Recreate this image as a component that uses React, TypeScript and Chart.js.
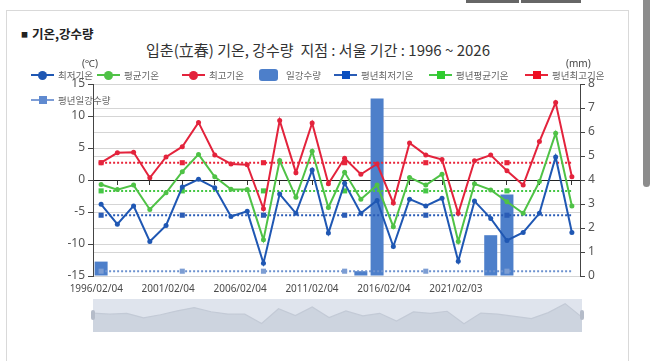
import React, { useEffect, useRef } from 'react';
import { Chart, registerables } from 'chart.js';

Chart.register(...registerables);

// ---------------- data ----------------
const categories = [
  '1996', '1997', '1998', '1999', '2000', '2001', '2002', '2003', '2004', '2005',
  '2006', '2007', '2008', '2009', '2010', '2011', '2012', '2013', '2014', '2015',
  '2016', '2017', '2018', '2019', '2020', '2021', '2022', '2023', '2024', '2025',
];
const minTemp = [
  -3.8, -6.9, -4.05, -9.6, -7.1, -1.1, 0.1, -1.2, -5.7, -4.9,
  -13.0, -2.2, -5.2, 1.55, -8.3, -0.5, -5.2, -3.2, -10.4, -3.0,
  -4.05, -2.85, -12.7, -3.3, -6.0, -9.45, -8.2, -5.2, 3.6, -8.2,
];
const avgTemp = [
  -0.7, -1.5, -0.8, -4.6, -2.0, 1.3, 4.0, 0.5, -1.45, -1.5,
  -9.35, 3.05, -2.7, 4.5, -4.3, 1.2, -3.0, -0.8, -7.3, 0.4,
  -0.8, 0.9, -9.6, -0.6, -1.55, -3.4, -5.2, -0.25, 7.3, -4.05,
];
const maxTemp = [
  2.7, 4.25, 4.35, 0.35, 3.6, 5.2, 9.0, 3.9, 2.5, 2.4,
  -4.5, 9.3, 1.15, 8.9, -0.6, 3.4, 0.9, 2.5, -3.6, 5.8,
  3.9, 3.2, -5.2, 3.0, 3.9, 1.45, -0.8, 6.0, 12.1, 0.5,
];
const precip = [
  0.6, 0, 0, 0, 0, 0, 0, 0, 0, 0,
  0, 0, 0, 0, 0, 0, 0.2, 7.4, 0, 0,
  0, 0, 0, 0, 1.7, 3.4, 0, 0, 0, 0,
];
const normalMin = -5.5;
const normalAvg = -1.7;
const normalMax = 2.7;
const normalPrecip = 0.2;

const tickLabels = ['1996/02/04', '2001/02/04', '2006/02/04', '2011/02/04', '2016/02/04', '2021/02/03'];
const seriesNames = ['최저기온', '평균기온', '최고기온', '일강수량', '평년최저기온', '평년평균기온', '평년최고기온', '평년일강수량'];

const titleText = '입춘(立春) 기온, 강수량  지점 : 서울 기간 : 1996 ~ 2026';
const headerText = '기온,강수량';

// ---------------- styles ----------------
const COL = {
  min: '#1f57b3',
  avg: '#4fc246',
  max: '#e3233c',
  bar: '#4d7fca',
  nMin: '#2a5cb6',
  nAvg: '#45c745',
  nMax: '#e8243a',
  nPre: '#6d92cf',
};
const KR = "'Noto Sans CJK KR', 'Noto Sans', sans-serif";
const NUM = "'Noto Sans', 'DejaVu Sans', sans-serif";

// date labels along the bottom, placed through the category scale
const xLabelPlugin = {
  id: 'xDateLabels',
  afterDraw(chart: any) {
    const sx = chart.scales.x;
    const ctx = chart.ctx;
    const bottom = chart.chartArea.bottom;
    ctx.save();
    ctx.font = `10px ${NUM}`;
    ctx.fillStyle = '#4a4a4a';
    ctx.textAlign = 'center';
    ctx.textBaseline = 'top';
    tickLabels.forEach((t, i) => {
      ctx.fillText(t, sx.getPixelForValue(-0.3 + i * 4.43), bottom + 8);
    });
    ctx.restore();
  },
};

function MainChart() {
  const ref = useRef<HTMLCanvasElement>(null);
  useEffect(() => {
    if (!ref.current) return;
    const everyFifth = (ctx: any) => (ctx.dataIndex % 5 === 0 ? 3.6 : 0);
    const chart = new Chart(ref.current, {
      type: 'bar',
      data: {
        labels: categories,
        datasets: [
          {
            type: 'line', label: seriesNames[0], data: minTemp, yAxisID: 'y', xAxisID: 'x',
            borderColor: COL.min, backgroundColor: COL.min, borderWidth: 2, pointRadius: 2.5,
            pointBorderWidth: 0, tension: 0, order: 1,
          },
          {
            type: 'line', label: seriesNames[1], data: avgTemp, yAxisID: 'y', xAxisID: 'x',
            borderColor: COL.avg, backgroundColor: COL.avg, borderWidth: 2, pointRadius: 2.5,
            pointBorderWidth: 0, tension: 0, order: 1,
          },
          {
            type: 'line', label: seriesNames[2], data: maxTemp, yAxisID: 'y', xAxisID: 'x',
            borderColor: COL.max, backgroundColor: COL.max, borderWidth: 2, pointRadius: 2.5,
            pointBorderWidth: 0, tension: 0, order: 1,
          },
          {
            type: 'bar', label: seriesNames[3], data: precip, yAxisID: 'y2', xAxisID: 'x',
            backgroundColor: COL.bar, barPercentage: 0.8, categoryPercentage: 1, order: 10,
          },
          {
            type: 'line', label: seriesNames[4], data: categories.map(() => normalMin), yAxisID: 'y', xAxisID: 'x',
            borderColor: COL.nMin, backgroundColor: COL.nMin, borderWidth: 2, borderDash: [2, 2],
            pointStyle: 'rect', pointRadius: everyFifth, pointBorderWidth: 0, order: 2,
          },
          {
            type: 'line', label: seriesNames[5], data: categories.map(() => normalAvg), yAxisID: 'y', xAxisID: 'x',
            borderColor: COL.nAvg, backgroundColor: COL.nAvg, borderWidth: 2, borderDash: [2, 2],
            pointStyle: 'rect', pointRadius: everyFifth, pointBorderWidth: 0, order: 2,
          },
          {
            type: 'line', label: seriesNames[6], data: categories.map(() => normalMax), yAxisID: 'y', xAxisID: 'x',
            borderColor: COL.nMax, backgroundColor: COL.nMax, borderWidth: 2, borderDash: [2, 2],
            pointStyle: 'rect', pointRadius: everyFifth, pointBorderWidth: 0, order: 2,
          },
          {
            type: 'line', label: seriesNames[7], data: categories.map(() => normalPrecip), yAxisID: 'y2', xAxisID: 'x',
            borderColor: COL.nPre, backgroundColor: '#7c9dd3', borderWidth: 2, borderDash: [2, 2],
            pointStyle: 'rect', pointRadius: everyFifth, pointBorderWidth: 0, order: 2,
          },
        ],
      },
      options: {
        animation: false,
        responsive: false,
        maintainAspectRatio: false,
        events: [],
        layout: { padding: { left: 63, right: 40, top: 84, bottom: 24 } },
        plugins: { legend: { display: false }, title: { display: false }, tooltip: { enabled: false } },
        scales: {
          x: {
            type: 'category',
            position: { y: 0 } as any,
            offset: true,
            grid: {
              drawOnChartArea: false,
              offset: false,
              tickLength: 4,
              color: (ctx: any) => (ctx.index % 2 === 1 ? '#333' : 'rgba(0,0,0,0)'),
            },
            border: { color: '#222', width: 1 },
            ticks: { display: false },
          },
          y: {
            position: 'left',
            min: -15,
            max: 15,
            ticks: { stepSize: 5, color: '#555', padding: 3, font: { size: 12, family: NUM } },
            grid: {
              color: (ctx: any) => (ctx.tick && ctx.tick.value === 0 ? 'rgba(0,0,0,0)' : '#d5d5d5'),
              tickColor: '#444',
              tickLength: 5,
            },
            border: { color: '#444' },
            afterFit: (s: any) => { s.width = 30; },
          },
          y2: {
            position: 'right',
            min: 0,
            max: 8,
            ticks: { stepSize: 1, color: '#555', padding: 3, font: { size: 12, family: NUM } },
            grid: {
              color: (ctx: any) => (ctx.tick && ctx.tick.value === 4 ? 'rgba(0,0,0,0)' : '#d5d5d5'),
              tickColor: '#444',
              tickLength: 5,
            },
            border: { color: '#444' },
            afterFit: (s: any) => { s.width = 30; },
          },
        },
      },
      plugins: [xLabelPlugin],
    } as any);
    return () => chart.destroy();
  }, []);
  return (
    <canvas
      ref={ref}
      width={650}
      height={300}
      style={{ position: 'absolute', left: 0, top: 0, width: 650, height: 300 }}
    />
  );
}

function Navigator() {
  const ref = useRef<HTMLCanvasElement>(null);
  useEffect(() => {
    if (!ref.current) return;
    const chart = new Chart(ref.current, {
      type: 'line',
      data: {
        labels: categories,
        datasets: [
          {
            data: avgTemp,
            borderColor: '#c3cad6',
            backgroundColor: '#cdd4df',
            borderWidth: 1.2,
            pointRadius: 0,
            fill: 'start',
            tension: 0,
          },
        ],
      },
      options: {
        animation: false,
        responsive: false,
        maintainAspectRatio: false,
        events: [],
        layout: { padding: 0 },
        plugins: { legend: { display: false }, tooltip: { enabled: false } },
        scales: {
          x: { display: false, offset: false },
          y: { display: false, min: -16.5, max: 11.2 },
        },
      },
    } as any);
    return () => chart.destroy();
  }, []);
  return (
    <div style={{ position: 'absolute', left: 93, top: 299, width: 489, height: 33, background: '#dfe4ed' }}>
      <canvas ref={ref} width={489} height={33} style={{ display: 'block', width: 489, height: 33 }} />
      <div style={{ position: 'absolute', left: -2, top: 11, width: 4, height: 10, borderRadius: 2, background: '#b5bcc9' }} />
      <div style={{ position: 'absolute', right: -2, top: 11, width: 4, height: 10, borderRadius: 2, background: '#b5bcc9' }} />
    </div>
  );
}

function Legend() {
  const items = [
    { kind: 'circle', color: COL.min, x: 31, y: 75 },
    { kind: 'circle', color: COL.avg, x: 97, y: 75 },
    { kind: 'circle', color: COL.max, x: 182, y: 75 },
    { kind: 'bar', color: COL.bar, x: 259, y: 75 },
    { kind: 'square', color: '#0b4fc0', line: COL.nMin, x: 334, y: 75 },
    { kind: 'square', color: '#2fcc2f', line: COL.nAvg, x: 429, y: 75 },
    { kind: 'square', color: '#ee1024', line: COL.nMax, x: 525, y: 75 },
    { kind: 'square', color: '#5f8ad0', line: '#7d9dd6', x: 31, y: 100 },
  ];
  return (
    <>
      {items.map((it, i) => {
        const markerW = it.kind === 'bar' ? 19 : 23;
        return (
          <div key={i} style={{ position: 'absolute', left: it.x, top: it.y - 8, height: 16, display: 'flex', alignItems: 'center' }}>
            <div style={{ position: 'relative', width: markerW, height: 16 }}>
              {it.kind === 'bar' ? (
                <div style={{ position: 'absolute', left: 0, top: 2, width: 19, height: 12, borderRadius: 3, background: it.color }} />
              ) : (
                <>
                  <div style={{ position: 'absolute', left: 0, top: 7, width: 23, height: 2, background: (it as any).line || it.color }} />
                  {it.kind === 'circle' ? (
                    <div style={{ position: 'absolute', left: 7, top: 3.5, width: 9, height: 9, borderRadius: '50%', background: it.color }} />
                  ) : (
                    <div style={{ position: 'absolute', left: 7.5, top: 4, width: 8, height: 8, background: it.color }} />
                  )}
                </>
              )}
            </div>
            <span style={{ marginLeft: it.kind === 'bar' ? 8 : 4, fontFamily: KR, fontSize: 9.5, color: '#666', whiteSpace: 'nowrap', lineHeight: '16px' }}>
              {seriesNames[i]}
            </span>
          </div>
        );
      })}
    </>
  );
}

export default function App() {
  return (
    <div style={{ position: 'fixed', left: 0, top: 0, width: 650, height: 361, overflow: 'hidden', background: '#fff', fontFamily: KR }}>
      {/* top buttons */}
      <div style={{ position: 'absolute', left: 466, top: 0, width: 53, height: 3, background: '#666' }} />
      <div style={{ position: 'absolute', left: 521, top: 0, width: 60, height: 3, background: '#666' }} />
      {/* panel */}
      <div style={{ position: 'absolute', left: 6, top: 10, width: 623, height: 360, border: '1px solid #d9d9d9', boxSizing: 'border-box' }} />
      {/* scrollbar thumb */}
      <div style={{ position: 'absolute', left: 643, top: -6, width: 7, height: 193, borderRadius: 4, background: '#8c8c8c' }} />

      <div style={{ position: 'absolute', left: 21, top: 25, fontSize: 12.5, fontWeight: 700, color: '#222', lineHeight: '18px', whiteSpace: 'nowrap' }}>
        <span style={{ fontSize: 7, marginRight: 4, position: 'relative', top: -2 }}>■</span>{headerText}
      </div>
      <div style={{ position: 'absolute', left: 0, width: 636, top: 40, textAlign: 'center', fontSize: 15, color: '#333', lineHeight: '20px', whiteSpace: 'pre' }}>
        {titleText}
      </div>

      <MainChart />
      <Navigator />

      <div style={{ position: 'absolute', left: 82, top: 56, fontSize: 10, color: '#444', fontFamily: NUM, lineHeight: '14px' }}>(℃)</div>
      <div style={{ position: 'absolute', left: 566, top: 56, fontSize: 10, color: '#444', fontFamily: NUM, lineHeight: '14px' }}>(mm)</div>
      <Legend />
    </div>
  );
}
